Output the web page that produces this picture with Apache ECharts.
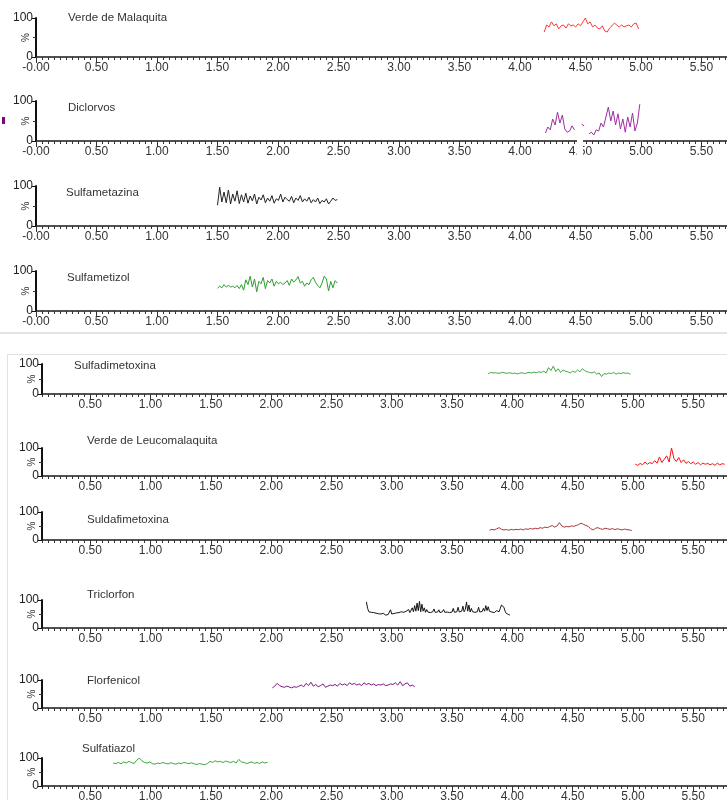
<!DOCTYPE html>
<html>
<head>
<meta charset="utf-8">
<script src="https://cdn.jsdelivr.net/npm/echarts@6/dist/echarts.min.js"></script>
<style>
  html, body { margin: 0; padding: 0; background: #fff; }
  #chart { width: 727px; height: 800px; }
</style>
</head>
<body>
<div id="chart"></div>
<script>
// tick labels (minutes)
const topTicks = [0, 0.5, 1, 1.5, 2, 2.5, 3, 3.5, 4, 4.5, 5, 5.5];
const topTickLabels = ['-0.00', '0.50', '1.00', '1.50', '2.00', '2.50', '3.00', '3.50', '4.00', '4.50', '5.00', '5.50'];
const bottomTicks = [0.5, 1, 1.5, 2, 2.5, 3, 3.5, 4, 4.5, 5, 5.5];
const bottomTickLabels = ['0.50', '1.00', '1.50', '2.00', '2.50', '3.00', '3.50', '4.00', '4.50', '5.00', '5.50'];

const names = ['Verde de Malaquita', 'Diclorvos', 'Sulfametazina', 'Sulfametizol',
  'Sulfadimetoxina', 'Verde de Leucomalaquita', 'Suldafimetoxina', 'Triclorfon', 'Florfenicol', 'Sulfatiazol'];
const colors = ['#ff3b3b', '#a22ea2', '#222222', '#2e9e2e',
  '#45a845', '#ff1010', '#a83838', '#151515', '#84168a', '#3aa83a'];
// first and last retention time of each trace
const timeRanges = [[4.20, 4.98], [4.21, 4.99], [1.50, 2.49], [1.50, 2.49],
  [3.80, 4.98], [5.02, 5.76], [3.81, 4.99], [2.79, 3.98], [2.01, 3.19], [0.69, 1.97]];

// intensities, % of max
const verdeMalaquita = [64, 82, 77, 90, 80, 85, 72, 80, 82, 74, 85, 80, 82, 77, 85, 80, 90, 100, 85, 90,
  77, 82, 74, 72, 80, 67, 64, 74, 80, 87, 82, 77, 82, 77, 80, 82, 77, 85, 87, 72];
const diclorvos = [20, 35, 28, 55, 40, 72, 45, 65, 30, 22, 25, 38, 28, null, null, 42, 38, null, 18, 22,
  15, 28, 25, 45, 35, 60, 85, 50, 75, 40, 68, 30, 55, 22, 60, 35, 70, 25, 45, 92];
const sulfametazina = [52, 97, 60, 85, 58, 90, 55, 80, 62, 88, 56, 78, 60, 82, 57, 75, 63, 80, 55, 72,
  65, 78, 58, 70, 62, 76, 57, 68, 64, 80, 60, 72, 66, 62, 74, 58, 70, 64, 76, 60,
  68, 62, 72, 58, 66, 60, 70, 56, 64, 60, 68, 55, 62, 70, 64, 66];
const sulfametizol = [57, 62, 58, 66, 60, 64, 60, 62, 58, 64, 56, 66, 52, 78, 66, 87, 60, 80, 48, 74,
  68, 84, 56, 76, 70, 80, 62, 74, 68, 72, 66, 70, 76, 64, 80, 72, 78, 86, 70, 74,
  62, 70, 66, 78, 84, 72, 64, 58, 70, 87, 80, 50, 74, 58, 76, 70];
const sulfadimetoxina = [68, 72, 70, 71, 69, 70, 72, 70, 69, 71, 68, 70, 67, 69, 71, 68, 70, 72, 70, 73,
  71, 74, 72, 76, 70, 88, 78, 93, 75, 84, 72, 80, 76, 74, 70, 76, 72, 80, 74, 84,
  78, 74, 72, 70, 74, 66, 70, 58, 68, 66, 70, 68, 72, 66, 70, 68, 71, 69, 70, 66];
const verdeLeucomalaquita = [42, 38, 45, 40, 50, 42, 48, 44, 55, 46, 68, 48, 60, 72, 50, 100, 62, 52, 66, 48,
  58, 45, 52, 44, 50, 42, 48, 40, 46, 42, 45, 40, 44, 38, 46, 40, 44, 42];
const suldafimetoxina = [35, 38, 36, 40, 44, 38, 36, 37, 35, 38, 36, 38, 37, 39, 36, 40, 38, 41, 39, 42,
  40, 44, 42, 46, 44, 48, 52, 46, 50, 62, 50, 46, 48, 47, 50, 49, 52, 55, 60, 56,
  52, 48, 40, 36, 42, 44, 40, 38, 42, 40, 38, 41, 37, 40, 38, 36, 39, 37, 36, 34];
const triclorfon = [93, 70, 58, 54, 56, 52, 55, 50, 53, 49, 51,
  48, 50, 47, 52, 49, 46, 50, 48, 52, 65, 50, 48, 52, 50, 54, 51, 55, 52, 58, 53,
  56, 52, 60, 54, 66, 55, 62, 72, 58, 80, 60, 89, 62, 95, 58, 85, 60, 72, 56, 66,
  57, 64, 55, 62, 58, 68, 56, 63, 57, 65, 55, 62, 58, 66, 56, 61, 57, 64, 55, 62,
  57, 70, 56, 62, 58, 74, 57, 64, 60, 78, 58, 66, 93, 60, 82, 57, 70, 58, 64, 56,
  62, 58, 74, 57, 64, 59, 70, 60, 80, 62, 76, 60, 66, 57, 58, 55, 60, 62, 56, 58,
  70, 82, 86, 74, 60, 52, 50, 48, 46];
const florfenicol = [72, 78, 88, 80, 76, 74, 78, 75, 72, 76, 74, 78, 82, 76, 88, 80, 92, 78, 84, 76,
  80, 86, 74, 78, 82, 80, 84, 78, 88, 82, 86, 80, 90, 84, 88, 82, 86, 80, 90, 84,
  88, 82, 86, 80, 84, 82, 86, 80, 82, 86, 84, 90, 82, 94, 80, 86, 90, 78, 82, 76];
const sulfatiazol = [82, 80, 84, 79, 86, 82, 88, 84, 80, 92, 100, 90, 84, 82, 86, 80, 78, 82, 80, 84,
  81, 79, 83, 80, 78, 82, 80, 84, 82, 80, 83, 79, 77, 80, 78, 76, 80, 88, 84, 90,
  86, 88, 84, 89, 86, 84, 88, 82, 95, 86, 84, 80, 83, 86, 81, 84, 80, 86, 82, 85];

const traces = [verdeMalaquita, diclorvos, sulfametazina, sulfametizol,
  sulfadimetoxina, verdeLeucomalaquita, suldafimetoxina, triclorfon, florfenicol, sulfatiazol];

// layout of the two stacked screenshots
const panels = [
  { left: 36, min: 0, max: 5.75, scale: 121, ticks: topTicks, labels: topTickLabels },
  { left: 42, min: 0.1, max: 5.85, scale: 120.6, ticks: bottomTicks, labels: bottomTickLabels }
];
const rows = [
  { p: 0, top: 18, h: 39, tl: 68, tt: 12 },
  { p: 0, top: 101, h: 40, tl: 68, tt: 102 },
  { p: 0, top: 186, h: 40, tl: 66, tt: 187 },
  { p: 0, top: 271, h: 40, tl: 67, tt: 272 },
  { p: 1, top: 364, h: 30, tl: 74, tt: 360 },
  { p: 1, top: 448, h: 28, tl: 87, tt: 435 },
  { p: 1, top: 512, h: 28, tl: 87, tt: 514 },
  { p: 1, top: 600, h: 28, tl: 87, tt: 589 },
  { p: 1, top: 680, h: 28, tl: 87, tt: 675 },
  { p: 1, top: 758, h: 28, tl: 82, tt: 743 }
];

const grid = [], xAxis = [], yAxis = [], series = [], title = [];
const FONT = 'Arial, Liberation Sans, sans-serif';

rows.forEach(function (r, i) {
  const pan = panels[r.p];
  const labelMap = {};
  pan.ticks.forEach(function (t, k) { labelMap[Math.round(t * 100)] = pan.labels[k]; });

  grid.push({
    left: pan.left, top: r.top, height: r.h, width: (pan.max - pan.min) * pan.scale,
    containLabel: false, outerBoundsMode: 'none'
  });

  // small ticks + labels
  xAxis.push({
    gridIndex: i, type: 'value', min: pan.min, max: pan.max, interval: 0.05,
    axisLine: { onZero: false, lineStyle: { color: '#1a1a1a', width: 1.5 } },
    axisTick: { length: 3, lineStyle: { color: '#333', width: 1 } },
    axisLabel: {
      margin: 5, fontSize: 12, color: '#333', fontFamily: FONT,
      formatter: function (v) { return labelMap[Math.round(v * 100)] || ''; }
    },
    splitLine: { show: false }
  });
  // big ticks every 0.5, sitting on the same baseline
  xAxis.push({
    gridIndex: i, type: 'value', min: pan.min, max: pan.max, position: 'top', offset: -r.h,
    axisLine: { show: false },
    axisTick: { inside: true, length: 6, customValues: pan.ticks, lineStyle: { color: '#333', width: 1 } },
    axisLabel: { show: false },
    splitLine: { show: false }
  });

  yAxis.push({
    gridIndex: i, type: 'value', min: 0, max: 100, interval: 100,
    name: '%', nameLocation: 'middle', nameRotate: 90, nameGap: 5, nameMoveOverlap: false,
    nameTextStyle: { fontSize: 10, color: '#333', fontFamily: FONT },
    axisLine: { onZero: false, lineStyle: { color: '#111', width: 2 } },
    axisTick: { length: 4, lineStyle: { color: '#111' } },
    minorTick: { show: true, splitNumber: 2, length: 3, lineStyle: { color: '#333' } },
    axisLabel: { margin: 3, fontSize: 12, color: '#222', fontFamily: FONT },
    splitLine: { show: false }
  });

  const tr = timeRanges[i];
  const vals = traces[i];
  const step = (tr[1] - tr[0]) / (vals.length - 1);
  series.push({
    type: 'line', name: names[i], xAxisIndex: 2 * i, yAxisIndex: i,
    showSymbol: false, connectNulls: false, silent: true,
    lineStyle: { color: colors[i], width: 1 },
    data: vals.map(function (v, k) { return [tr[0] + k * step, v === null ? '-' : v]; })
  });

  title.push({
    text: names[i], left: r.tl, top: r.tt, padding: 0,
    textStyle: { fontSize: 11.5, fontWeight: 'normal', color: '#333', fontFamily: FONT }
  });
});

const chart = echarts.init(document.getElementById('chart'), null, { renderer: 'canvas' });
chart.setOption({
  animation: false,
  backgroundColor: '#fff',
  title: title,
  grid: grid,
  xAxis: xAxis,
  yAxis: yAxis,
  series: series,
  graphic: [
    { type: 'line', shape: { x1: 0, y1: 333, x2: 727, y2: 333 }, style: { stroke: '#c8c8c8', lineWidth: 1 } },
    { type: 'line', shape: { x1: 7, y1: 354.5, x2: 727, y2: 354.5 }, style: { stroke: '#e2e2e2', lineWidth: 1 } },
    { type: 'line', shape: { x1: 7.5, y1: 354, x2: 7.5, y2: 800 }, style: { stroke: '#e2e2e2', lineWidth: 1 } },
    { type: 'rect', shape: { x: 2, y: 117, width: 3, height: 7 }, style: { fill: '#7a0a7a' } },
    { type: 'rect', z: 100, shape: { x: 577, y: 128, width: 6, height: 34 }, style: { fill: '#fff' } }
  ]
});
</script>
</body>
</html>
